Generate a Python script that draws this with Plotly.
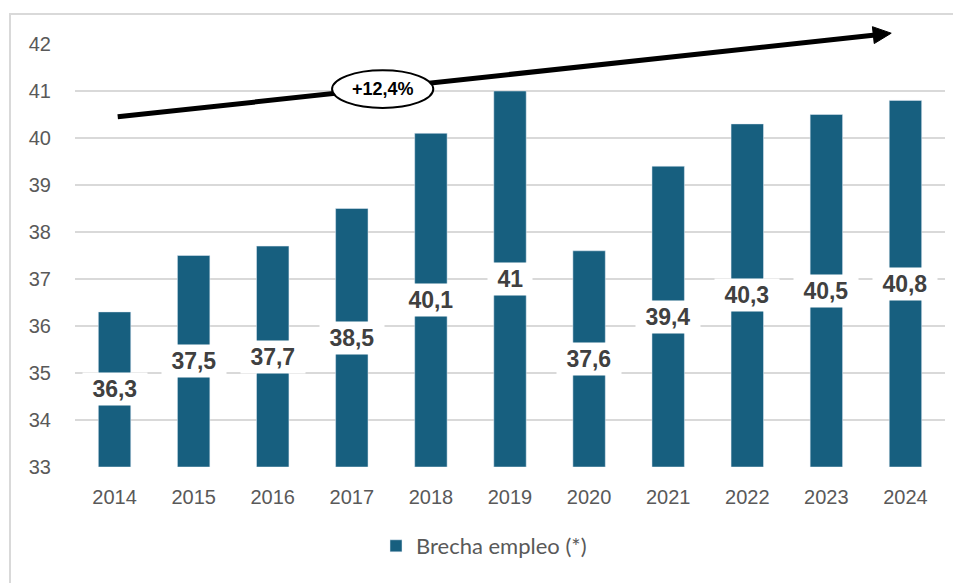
import numpy as np
import plotly.graph_objects as go

years = ['2014', '2015', '2016', '2017', '2018', '2019', '2020',
         '2021', '2022', '2023', '2024']
brecha = [36.3, 37.5, 37.7, 38.5, 40.1, 41.0, 37.6, 39.4, 40.3, 40.5, 40.8]
trend_label = '+12,4%'

BAR = '#175F7F'
GRID = '#d9d9d9'
TXT = '#595959'
Y_MIN, Y_MAX = 33, 42

idx = np.arange(len(years))
fig = go.Figure()
fig.add_trace(go.Bar(
    x=idx, y=[v - Y_MIN for v in brecha], base=Y_MIN,
    name='Brecha empleo (*)', marker_color=BAR, width=0.41,
    hoverinfo='skip'))

# data labels centred in each bar, on a white box
for i, v in zip(idx, brecha):
    txt = f'{v:g}'.replace('.', ',')
    fig.add_annotation(x=i, y=(Y_MIN + v) / 2,
                       text=f'&nbsp;<b>{txt}</b>&nbsp;',
                       showarrow=False, bgcolor='white', borderpad=3,
                       font=dict(size=23, color='#404040',
                                 family='Liberation Sans, Arial'))

# page body has an 8px margin, so the layout is shifted by that much
W, H = 870, 423
L, R, T, B = 67, 24, 36, 124
n_cat = len(years)


def px(x):  # data x -> paper
    return (x + 0.5) / n_cat


def py(y):  # data y -> paper
    return (y - Y_MIN) / (Y_MAX - Y_MIN)


# trend arrow, drawn as paper shapes so nothing gets clipped
x_start, y_start = 0.04, 40.45
x_end, y_end = 9.82, 42.23
sx, sy = px(x_start) * W, py(y_start) * H
ex, ey = px(x_end) * W, py(y_end) * H
d = np.hypot(ex - sx, ey - sy)
ux, uy = (ex - sx) / d, (ey - sy) / d
head_len, head_half = 18, 8.5
bx, by = ex - ux * head_len, ey - uy * head_len
p1 = ((bx - uy * head_half) / W, (by + ux * head_half) / H)
p2 = ((bx + uy * head_half) / W, (by - ux * head_half) / H)

fig.add_shape(type='line', xref='paper', yref='paper',
              x0=sx / W, y0=sy / H, x1=(bx + ux * 2) / W, y1=(by + uy * 2) / H,
              line=dict(color='black', width=5), layer='above')
fig.add_shape(type='path', xref='paper', yref='paper',
              path=f'M {ex / W} {ey / H} L {p1[0]} {p1[1]} L {p2[0]} {p2[1]} Z',
              fillcolor='black', line=dict(color='black', width=1),
              layer='above')
cx, cy = 3.39, 41.04
fig.add_shape(type='circle', x0=cx - 0.64, x1=cx + 0.64,
              y0=cy - 0.40, y1=cy + 0.40,
              fillcolor='white', line=dict(color='black', width=2),
              layer='above')
fig.add_annotation(x=cx, y=cy, text=f'<b>{trend_label}</b>', showarrow=False,
                   font=dict(size=18, color='black',
                             family='Liberation Sans, Arial'))

# outer chart frame
fig.add_shape(type='rect', xref='paper', yref='paper',
              x0=(2 - L) / W, x1=(975 - L) / W,
              y0=(H + T - 600) / H, y1=1 + (T - 6) / H,
              line=dict(color=GRID, width=2), fillcolor='rgba(0,0,0,0)')

fig.update_layout(
    width=961, height=583,
    margin=dict(l=L, r=R, t=T, b=B, autoexpand=False),
    paper_bgcolor='white', plot_bgcolor='white',
    font=dict(family='Liberation Sans, Arial', color=TXT, size=20),
    showlegend=True,
    legend=dict(orientation='h', xref='container', yref='container',
                x=476 / 961, xanchor='center',
                y=1 - 538 / 583, yanchor='middle',
                font=dict(size=22, color=TXT, family='Lato, Liberation Sans')),
)
fig.update_xaxes(range=[-0.5, n_cat - 0.5], tickvals=idx, ticktext=years,
                 showgrid=False, zeroline=False, showline=False, ticks='',
                 tickfont=dict(size=20, color=TXT), ticklabelstandoff=16,
                 fixedrange=True)
fig.update_yaxes(range=[Y_MIN, Y_MAX], dtick=1, showgrid=True, gridcolor=GRID,
                 gridwidth=2, zeroline=False, showline=False, ticks='',
                 tickfont=dict(size=20, color=TXT), ticklabelstandoff=23)

fig.write_html('out.html')
